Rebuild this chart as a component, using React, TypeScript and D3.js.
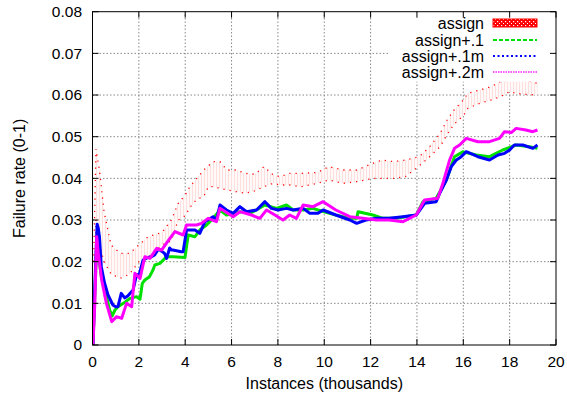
import React from "react";
import * as d3 from "d3";

const xTicks = [0, 2, 4, 6, 8, 10, 12, 14, 16, 18, 20];
const yTicks = [0, 0.01, 0.02, 0.03, 0.04, 0.05, 0.06, 0.07, 0.08];
const yTickLabels = ["0", "0.01", "0.02", "0.03", "0.04", "0.05", "0.06", "0.07", "0.08"];

const seriesNames = ["assign", "assign+.1", "assign+.1m", "assign+.2m"];

// assign: band
const bandX = [0.05,0.15,0.3,0.5,0.8,1.2,1.6,2.0,2.4,3.0,3.4,3.7,4.0,4.2,4.5,4.8,5.0,5.2,5.5,5.8,6.2,6.6,7.0,7.4,7.8,8.1,8.5,9.0,9.7,10.2,10.8,11.4,12.1,12.5,13.0,13.5,14.1,14.55,15.0,15.3,15.6,16.0,16.2,16.7,17.2,17.6,18.0,18.3,18.6,19.2];
const bandUpper = [0.02,0.047,0.042,0.032,0.024,0.022,0.022,0.024,0.026,0.027,0.03,0.034,0.036,0.038,0.04,0.042,0.043,0.044,0.044,0.042,0.042,0.0412,0.041,0.0428,0.0408,0.0404,0.0412,0.0412,0.0414,0.0428,0.042,0.042,0.0436,0.0444,0.044,0.0444,0.0452,0.0476,0.0508,0.054,0.0564,0.0588,0.0604,0.0612,0.062,0.0632,0.0636,0.064,0.0636,0.0628];
const bandLower = [0,0.03,0.024,0.02,0.017,0.016,0.017,0.02,0.021,0.024,0.025,0.03,0.031,0.033,0.035,0.0356,0.038,0.038,0.0376,0.0372,0.0368,0.0364,0.037,0.038,0.0388,0.0384,0.0384,0.038,0.0388,0.0396,0.0388,0.0392,0.04,0.04,0.04,0.0404,0.043,0.0452,0.0476,0.0505,0.053,0.055,0.0568,0.058,0.0588,0.0596,0.0608,0.0604,0.0602,0.06];

// assign+.1 (green)
const greenX = [0.02,0.1,0.18,0.25,0.38,0.6,0.74,0.85,0.97,1.1,1.33,1.62,1.9,2.05,2.15,2.26,2.46,2.61,2.69,2.91,3.2,3.48,3.99,4.13,4.42,4.63,4.92,5.2,5.5,5.78,6.36,6.79,6.93,7.44,7.94,8.37,8.66,9.09,9.52,9.73,10.5,11.1,11.4,11.46,12.1,12.53,13.1,13.97,14.26,14.83,15.27,15.62,15.98,16.56,17.13,17.7,18.28,18.86,19.2];
const greenY = [0,0.012,0.024,0.022,0.0164,0.0116,0.0084,0.007,0.0084,0.0092,0.01,0.0112,0.0116,0.011,0.0148,0.0156,0.0164,0.018,0.0192,0.0196,0.0212,0.0212,0.021,0.0264,0.026,0.0276,0.0288,0.0304,0.0324,0.0312,0.032,0.0316,0.032,0.0336,0.0328,0.0336,0.0324,0.0324,0.0328,0.0324,0.0312,0.0304,0.0304,0.032,0.0312,0.0304,0.0304,0.0312,0.0344,0.0352,0.0396,0.0452,0.0464,0.0456,0.0452,0.0468,0.048,0.0476,0.0472];

// assign+.1m (blue)
const blueX = [0.02,0.1,0.2,0.25,0.3,0.38,0.52,0.67,0.88,1.0,1.1,1.24,1.39,1.53,1.75,1.89,2.03,2.18,2.39,2.55,2.68,2.82,2.91,3.11,3.2,3.33,3.41,3.47,3.83,3.91,3.97,4.06,4.12,4.42,4.63,4.85,5.2,5.35,5.5,5.78,6.07,6.36,6.65,7.08,7.44,7.72,8.01,8.37,8.66,9.09,9.38,9.73,9.95,10.5,11.1,11.4,11.8,12.25,12.8,13.4,13.97,14.33,14.83,14.98,15.27,15.48,15.7,15.91,16.13,16.63,17.13,17.5,17.78,18.0,18.2,18.57,19.0,19.2];
const blueY = [0,0.014,0.029,0.028,0.026,0.0188,0.0149,0.012,0.0096,0.0092,0.0092,0.0124,0.0113,0.0118,0.0132,0.0166,0.0172,0.0204,0.021,0.0212,0.0216,0.0228,0.0228,0.022,0.0208,0.0233,0.0228,0.0228,0.0224,0.0224,0.0245,0.0276,0.0276,0.0276,0.0268,0.0296,0.0308,0.03,0.0336,0.0324,0.0316,0.0332,0.032,0.0324,0.0344,0.0328,0.0324,0.0328,0.0324,0.0328,0.0316,0.0316,0.0324,0.0312,0.03,0.0292,0.03,0.0304,0.0304,0.0308,0.0312,0.034,0.0344,0.0364,0.0396,0.0428,0.0444,0.0452,0.0464,0.0452,0.0444,0.0456,0.046,0.0468,0.048,0.048,0.0472,0.048];

// assign+.2m (magenta)
const magX = [0.02,0.1,0.18,0.25,0.4,0.6,0.83,1.04,1.26,1.47,1.69,1.83,2.05,2.26,2.48,2.77,2.98,3.34,3.56,3.91,4.06,4.49,4.7,4.99,5.35,5.5,6.07,6.36,6.86,7.22,7.51,7.87,8.22,8.51,8.8,9.09,9.52,9.95,10.5,11.1,11.67,12.25,12.8,13.4,13.97,14.33,14.9,15.12,15.41,15.62,15.84,16.13,16.63,17.13,17.56,17.78,18.07,18.28,18.7,19.0,19.2];
const magY = [0,0.01,0.026,0.022,0.0155,0.01,0.0056,0.0068,0.0064,0.01,0.0092,0.0172,0.016,0.0212,0.0208,0.0232,0.0228,0.0256,0.0272,0.0264,0.0288,0.0288,0.0292,0.0304,0.0296,0.0328,0.0308,0.032,0.0312,0.0304,0.0324,0.0312,0.03,0.0312,0.0304,0.0336,0.0332,0.0344,0.0324,0.0308,0.0304,0.03,0.03,0.0296,0.0312,0.0348,0.0352,0.0388,0.0444,0.0472,0.048,0.0496,0.0488,0.0488,0.0496,0.0512,0.051,0.052,0.0516,0.0512,0.0516];

const W = 567, H = 400;
const L = 92.5, R = 556, T = 11.7, B = 345;
const FONT = "'Liberation Sans', Arial, sans-serif";

export default function App() {
  const x = d3.scaleLinear().domain([0, 20]).range([L, R]);
  const y = d3.scaleLinear().domain([0, 0.08]).range([B, T]);

  const idx = bandX.map((_, i) => i);
  const band = d3.area<number>()
    .x((i) => x(bandX[i]))
    .y0((i) => y(bandLower[i]))
    .y1((i) => y(bandUpper[i]));
  const edgeU = d3.line<number>().x((i) => x(bandX[i])).y((i) => y(bandUpper[i]));
  const edgeL = d3.line<number>().x((i) => x(bandX[i])).y((i) => y(bandLower[i]));

  const mk = (xs: number[], ys: number[]) =>
    d3.line<number>().x((i) => x(xs[i])).y((i) => y(ys[i]))(xs.map((_, i) => i)) || "";

  const lines = [
    { d: mk(greenX, greenY), c: "#00e000" },
    { d: mk(blueX, blueY), c: "#0000ff" },
    { d: mk(magX, magY), c: "#ff00ff" },
  ];

  const legendY = [23, 40, 56, 72];
  const legendTextX = 484;
  const sx0 = 493, sx1 = 537;

  return (
    <svg width={W} height={H} style={{ position: "absolute", left: 0, top: 0 }} fontFamily={FONT}>
      <defs>
        <pattern id="bandPat" width="3" height="3" patternUnits="userSpaceOnUse">
          <rect width="3" height="3" fill="#fffafa" />
          <rect x="0" y="0" width="1" height="3" fill="#ffdede" />
        </pattern>
        <pattern id="legPat" width="4" height="4" patternUnits="userSpaceOnUse">
          <rect width="4" height="4" fill="#ff0000" />
          <rect x="1" y="1" width="1.2" height="1.2" fill="#ffffff" />
          <rect x="3" y="3" width="1.2" height="1.2" fill="#ffffff" />
        </pattern>
        <clipPath id="plotClip">
          <rect x={L} y={T} width={R - L} height={B - T} />
        </clipPath>
      </defs>
      <rect width={W} height={H} fill="#fff" />

      {/* grid */}
      <g stroke="#888" strokeWidth={1} strokeDasharray="1.5,2">
        {xTicks.slice(1, -1).map((t) => (
          <line key={"gx" + t} x1={x(t)} x2={x(t)} y1={B} y2={T} />
        ))}
        {yTicks.slice(1, -1).map((t) => (
          <line key={"gy" + t} x1={L} x2={R} y1={y(t)} y2={y(t)} />
        ))}
      </g>

      <g clipPath="url(#plotClip)">
        <path d={band(idx) || ""} fill="url(#bandPat)" stroke="none" />
        <path d={edgeU(idx) || ""} fill="none" stroke="#ff0000" strokeWidth={1.3} strokeDasharray="1.2,5" />
        <path d={edgeL(idx) || ""} fill="none" stroke="#ff0000" strokeWidth={1.3} strokeDasharray="1.2,5" />
        {lines.map((l, i) => (
          <path key={i} d={l.d} fill="none" stroke={l.c} strokeWidth={3} strokeLinejoin="round" />
        ))}
      </g>

      {/* legend box */}
      <rect x={390} y={T + 1} width={R - 391} height={69} fill="#fff" />
      {seriesNames.map((n, i) => (
        <text key={n} x={legendTextX} y={legendY[i]} dy="0.35em" textAnchor="end" fontSize={16} fill="#000">
          {n}
        </text>
      ))}
      <rect x={sx0} y={legendY[0] - 4} width={sx1 - sx0} height={8} fill="url(#legPat)" stroke="#ff0000" strokeWidth={1} />
      <line x1={sx0} x2={sx1} y1={legendY[1]} y2={legendY[1]} stroke="#00e000" strokeWidth={2} strokeDasharray="4,2" />
      <line x1={sx0} x2={sx1} y1={legendY[2]} y2={legendY[2]} stroke="#0000ff" strokeWidth={2} strokeDasharray="2,2.5" />
      <line x1={sx0} x2={sx1} y1={legendY[3]} y2={legendY[3]} stroke="#ff55ff" strokeWidth={2} strokeDasharray="1.5,1" />

      {/* border */}
      <rect x={L} y={T} width={R - L} height={B - T} fill="none" stroke="#000" strokeWidth={1} />

      {/* ticks */}
      <g stroke="#000" strokeWidth={1}>
        {xTicks.map((t) => (
          <g key={"tx" + t}>
            <line x1={x(t)} x2={x(t)} y1={B} y2={B - 6} />
            <line x1={x(t)} x2={x(t)} y1={T} y2={T + 6} />
          </g>
        ))}
        {yTicks.map((t) => (
          <g key={"ty" + t}>
            <line x1={L} x2={L + 6} y1={y(t)} y2={y(t)} />
            <line x1={R} x2={R - 6} y1={y(t)} y2={y(t)} />
          </g>
        ))}
      </g>

      {xTicks.map((t) => (
        <text key={"lx" + t} x={x(t)} y={367} textAnchor="middle" fontSize={15.5} fill="#000">
          {t}
        </text>
      ))}
      {yTicks.map((t, i) => (
        <text key={"ly" + t} x={82} y={y(t)} dy="0.35em" textAnchor="end" fontSize={15.5} fill="#000">
          {yTickLabels[i]}
        </text>
      ))}

      <text x={(L + R) / 2} y={389} textAnchor="middle" fontSize={16} fill="#000">
        Instances (thousands)
      </text>
      <text
        transform={`translate(25,${(T + B) / 2}) rotate(-90)`}
        textAnchor="middle"
        fontSize={16}
        fill="#000"
      >
        Failure rate (0-1)
      </text>
    </svg>
  );
}
